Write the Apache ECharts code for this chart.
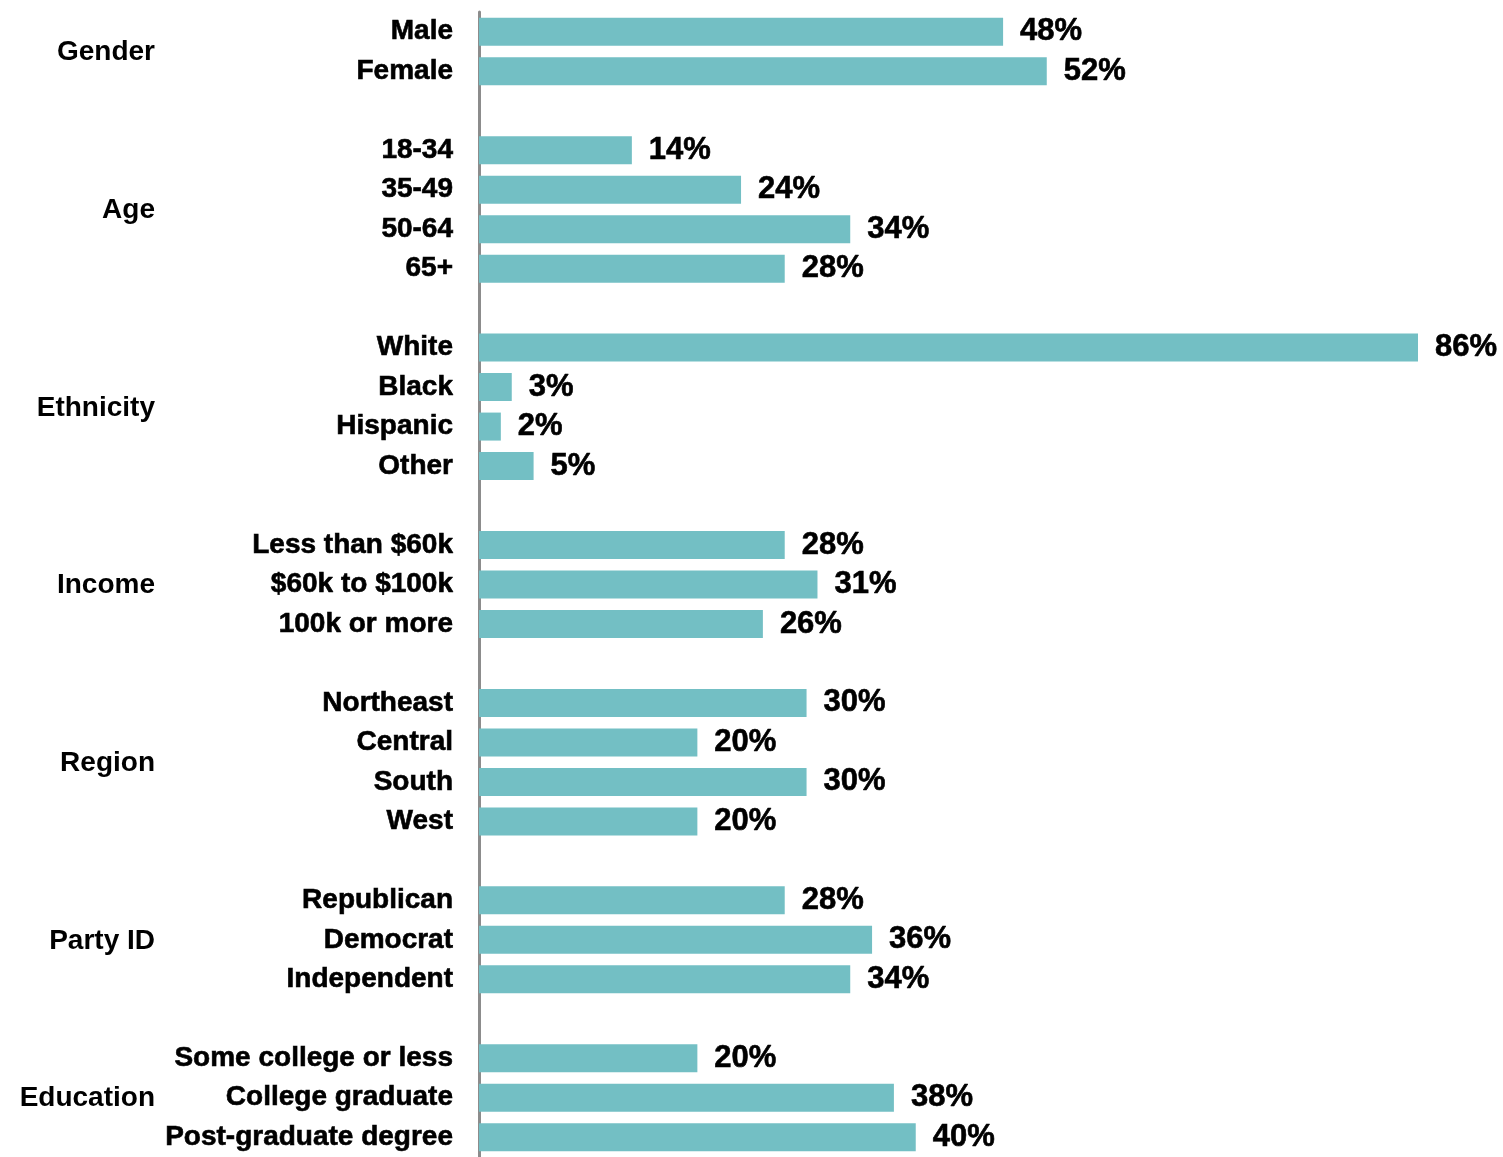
<!DOCTYPE html>
<html>
<head>
<meta charset="utf-8">
<style>
  html, body { margin: 0; padding: 0; background: #fff; }
  #chart { width: 1503px; height: 1157px; }
</style>
<script src="https://cdn.jsdelivr.net/npm/echarts@6/dist/echarts.min.js"></script>
</head>
<body>
<div id="chart"></div>
<script>
  // groups shown on the left, with their rows and shares (%)
  const groupNames = ['Gender', 'Age', 'Ethnicity', 'Income', 'Region', 'Party ID', 'Education'];
  const rowLabels = [
    ['Male', 'Female'],
    ['18-34', '35-49', '50-64', '65+'],
    ['White', 'Black', 'Hispanic', 'Other'],
    ['Less than $60k', '$60k to $100k', '100k or more'],
    ['Northeast', 'Central', 'South', 'West'],
    ['Republican', 'Democrat', 'Independent'],
    ['Some college or less', 'College graduate', 'Post-graduate degree']
  ];
  const rowValues = [
    [48, 52],
    [14, 24, 34, 28],
    [86, 3, 2, 5],
    [28, 31, 26],
    [30, 20, 30, 20],
    [28, 36, 34],
    [20, 38, 40]
  ];

  // flatten with an empty spacer row between groups
  let categories = [];
  let values = [];
  let groupSpans = [];
  rowLabels.forEach((rows, g) => {
    if (g > 0) {
      categories.push(' '.repeat(g));
      values.push(null);
    }
    let first = categories.length;
    rows.forEach((r, i) => {
      categories.push(r);
      values.push(rowValues[g][i]);
    });
    groupSpans.push([first, categories.length - 1]);
  });

  const myChart = echarts.init(document.getElementById('chart'));
  const option = {
    backgroundColor: '#fff',
    animation: false,
    grid: {
      left: 479,
      right: 85,
      top: 12,
      height: 1148
    },
    xAxis: {
      type: 'value',
      min: 0,
      max: 86,
      show: false
    },
    yAxis: {
      type: 'category',
      inverse: true,
      data: categories,
      axisLine: {
        lineStyle: { color: '#8c8c8c', width: 3 }
      },
      axisTick: { show: false },
      axisLabel: {
        margin: 26,
        color: '#000',
        fontFamily: 'Liberation Sans, Arial, sans-serif',
        fontWeight: 'bold',
        fontSize: 28,
        textBorderColor: '#000',
        textBorderWidth: 0.6
      }
    },
    series: [{
      type: 'bar',
      data: values,
      barWidth: 28,
      itemStyle: { color: '#73bfc4' },
      label: {
        show: true,
        position: 'right',
        distance: 17,
        formatter: '{c}%',
        color: '#000',
        fontFamily: 'Liberation Sans, Arial, sans-serif',
        fontWeight: 'bold',
        fontSize: 31,
        textBorderColor: '#000',
        textBorderWidth: 0.6
      }
    }]
  };
  myChart.setOption(option);

  // group titles centred on their rows
  let titles = groupNames.map((name, g) => {
    let y0 = myChart.convertToPixel({ yAxisIndex: 0 }, groupSpans[g][0]);
    let y1 = myChart.convertToPixel({ yAxisIndex: 0 }, groupSpans[g][1]);
    return {
      type: 'text',
      x: 155,
      y: (y0 + y1) / 2 + 1,
      style: {
        text: name,
        fill: '#000',
        font: 'bold 28px "Liberation Sans", Arial, sans-serif',
        align: 'right',
        verticalAlign: 'middle'
      }
    };
  });
  myChart.setOption({ graphic: titles });

  window.addEventListener('resize', () => {
    myChart.resize();
  });
</script>
</body>
</html>
